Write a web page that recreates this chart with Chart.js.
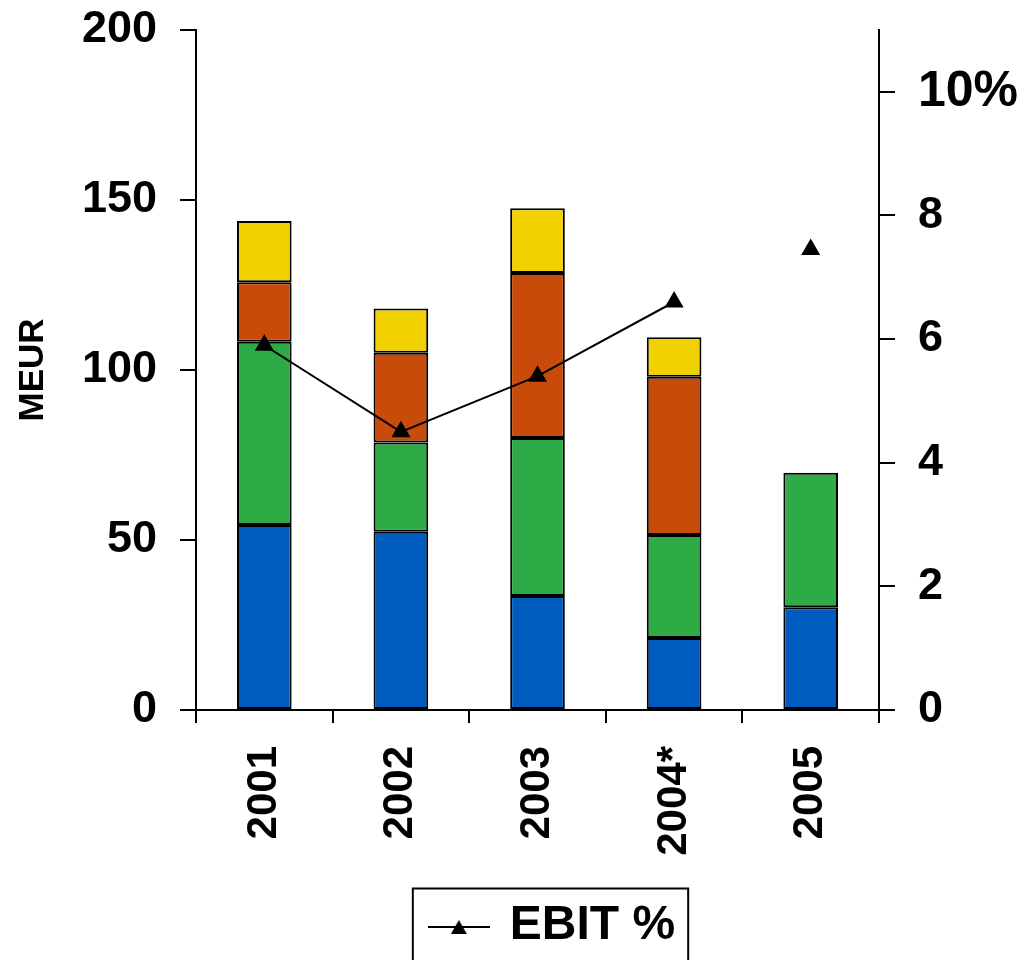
<!DOCTYPE html>
<html>
<head>
<meta charset="utf-8">
<script src="https://cdn.jsdelivr.net/npm/chart.js@4.4.1/dist/chart.umd.min.js"></script>
<style>
  html, body { margin: 0; padding: 0; background: #fff; }
  canvas { display: block; }
</style>
</head>
<body>
<canvas id="chart" width="1027" height="960"></canvas>
<script>
// --- data ---
const years    = ['2001', '2002', '2003', '2004*', '2005'];
const partBlue   = [54.4, 52.4, 33.5, 21.2, 30.2];
const partGreen  = [53.9, 26.3, 46.5, 30.3, 39.6];
const partOrange = [17.5, 26.4, 48.5, 46.5, null];
const partYellow = [18.0, 13.0, 19.1, 11.6, null];
const ebitPct  = [5.9, 4.5, 5.4, 6.6, 7.45];

const meurMax = 200, meurStep = 50;
const pctMax = 11, pctStep = 2;

const FONT = '"Liberation Sans", Arial, Helvetica, sans-serif';

// legend marker: line with a triangle on it
function makeLegendMarker() {
  const c = document.createElement('canvas');
  c.width = 62; c.height = 22;
  const g = c.getContext('2d');
  g.strokeStyle = '#000';
  g.lineWidth = 2;
  g.beginPath(); g.moveTo(0, 12); g.lineTo(62, 12); g.stroke();
  g.fillStyle = '#000';
  g.beginPath(); g.moveTo(31, 5); g.lineTo(39, 19); g.lineTo(23, 19); g.closePath(); g.fill();
  return c;
}

// frame round the legend (bottom runs off the page like in the picture)
const legendFrame = {
  id: 'legendFrame',
  afterDraw(chart) {
    const hb = chart.legend && chart.legend.legendHitBoxes && chart.legend.legendHitBoxes[0];
    if (!hb) return;
    const ctx = chart.ctx;
    const cy = hb.top + hb.height / 2;
    const left = hb.left - 19;
    const right = hb.left + hb.width + 13;
    ctx.save();
    ctx.strokeStyle = '#000';
    ctx.lineWidth = 2;
    ctx.strokeRect(left, cy - 37.5, right - left, 200);
    ctx.restore();
  }
};

function barSet(label, data, color) {
  return {
    type: 'bar',
    label,
    data,
    backgroundColor: color,
    borderColor: '#000',
    borderWidth: 2,
    borderSkipped: false,
    barPercentage: 0.4,
    categoryPercentage: 1,
    yAxisID: 'y',
    order: 2
  };
}

const axisGrid = { drawOnChartArea: false, drawTicks: true, color: '#000', tickColor: '#000', lineWidth: 2, tickWidth: 2 };

// fixed box sizes, no extra padding asked by the tick labels
function fixVertical(width) {
  return s => { s.width = width; s.paddingTop = 0; s.paddingBottom = 0; };
}

new Chart(document.getElementById('chart'), {
  data: {
    labels: years,
    datasets: [
      barSet('A', partBlue, '#005BBF'),
      barSet('B', partGreen, '#2EAA46'),
      barSet('C', partOrange, '#C84B0A'),
      barSet('D', partYellow, '#F2D100'),
      {
        type: 'line',
        label: 'EBIT %',
        data: ebitPct,
        yAxisID: 'y1',
        borderColor: '#000',
        backgroundColor: '#000',
        borderWidth: 2,
        pointStyle: 'triangle',
        pointRadius: 9,
        pointBackgroundColor: '#000',
        pointBorderColor: '#000',
        tension: 0,
        order: 0,
        segment: {
          borderColor: ctx => ctx.p1DataIndex === 4 ? 'rgba(0,0,0,0)' : undefined
        }
      }
    ]
  },
  options: {
    responsive: false,
    devicePixelRatio: 1,
    animation: false,
    layout: { padding: { left: 80, top: 30, right: 0, bottom: 0 } },
    plugins: {
      tooltip: { enabled: false },
      legend: {
        position: 'bottom',
        labels: {
          filter: item => item.datasetIndex === 4,
          usePointStyle: true,
          pointStyle: makeLegendMarker(),
          pointStyleWidth: 54,
          padding: 10,
          color: '#000',
          font: { family: FONT, size: 48, weight: 'bold' }
        }
      }
    },
    scales: {
      x: {
        stacked: true,
        grid: Object.assign({}, axisGrid, { offset: true, tickLength: 13 }),
        border: { display: true, color: '#000', width: 2 },
        ticks: {
          color: '#000',
          minRotation: 90,
          maxRotation: 90,
          padding: 23,
          autoSkip: false,
          font: { family: FONT, size: 42, weight: 'bold' }
        },
        afterFit: s => { s.height = 182; s.paddingLeft = 0; s.paddingRight = 0; }
      },
      y: {
        stacked: true,
        position: 'left',
        min: 0,
        max: meurMax,
        grid: Object.assign({}, axisGrid, { tickLength: 16 }),
        border: { display: true, color: '#000', width: 2 },
        ticks: {
          stepSize: meurStep,
          color: '#000',
          padding: 23,
          font: { family: FONT, size: 45, weight: 'bold' }
        },
        title: {
          display: true,
          text: 'MEUR',
          color: '#000',
          padding: { top: -68, bottom: 0 },
          font: { family: FONT, size: 35, weight: 'bold' }
        },
        afterFit: fixVertical(116)
      },
      y1: {
        position: 'right',
        min: 0,
        max: pctMax,
        grid: Object.assign({}, axisGrid, { tickLength: 16 }),
        border: { display: true, color: '#000', width: 2 },
        ticks: {
          stepSize: pctStep,
          includeBounds: false,
          color: '#000',
          padding: 23,
          font: ctx => ({ family: FONT, size: ctx.tick && ctx.tick.value === 10 ? 50 : 45, weight: 'bold' }),
          callback: v => v === 10 ? '10%' : String(v)
        },
        afterFit: fixVertical(148)
      }
    }
  },
  plugins: [legendFrame]
});
</script>
</body>
</html>
